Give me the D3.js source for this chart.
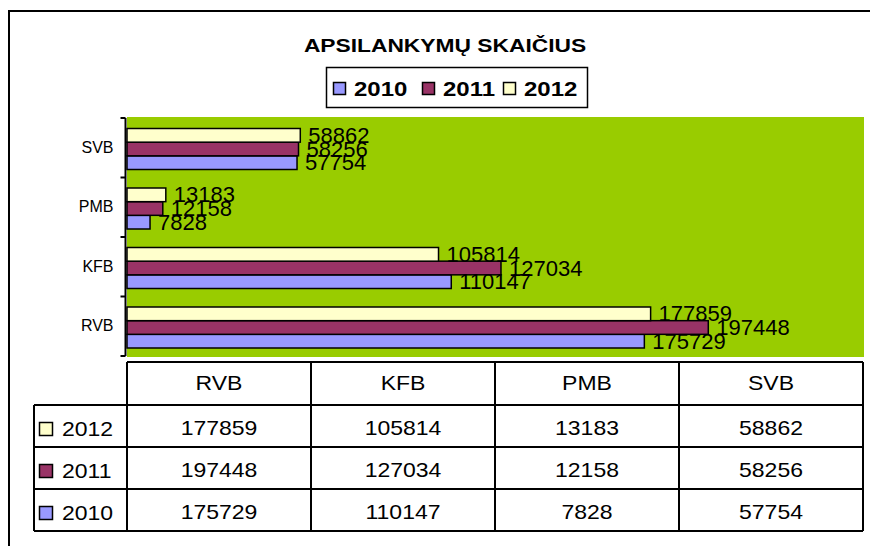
<!DOCTYPE html>
<html><head><meta charset="utf-8">
<script src="https://cdn.jsdelivr.net/npm/d3@7"></script>
<style>body{margin:0;background:#fff}svg{display:block}text{font-family:"Liberation Sans",Arial,sans-serif;fill:#000}</style>
</head><body><svg id="c" width="870" height="546"></svg>
<script>
const title = "APSILANKYMŲ SKAIČIUS";
const categories = ["RVB", "KFB", "PMB", "SVB"];
const years = ["2010", "2011", "2012"];
const values2010 = [175729, 110147, 7828, 57754];
const values2011 = [197448, 127034, 12158, 58256];
const values2012 = [177859, 105814, 13183, 58862];
const xTicks = [0, 250000];

const seriesColors = {"2010": "#9999FF", "2011": "#993366", "2012": "#FFFFCC"};
const series = [
  {year: "2010", values: values2010},
  {year: "2011", values: values2011},
  {year: "2012", values: values2012}
];

const svg = d3.select("#c");
const plot = {x0: 127, x1: 864, y0: 117, y1: 357};

// frame
svg.append("path").attr("d", "M9,546 V11 H870").attr("fill", "none").attr("stroke", "#000").attr("stroke-width", 2);

// title
svg.append("text").attr("transform", "translate(445,52) scale(1.2,1)")
  .attr("text-anchor", "middle").attr("font-size", 19).attr("font-weight", "bold").text(title);

// legend
const lg = svg.append("g");
lg.append("rect").attr("x", 326.5).attr("y", 67.5).attr("width", 261).attr("height", 40)
  .attr("fill", "#fff").attr("stroke", "#000").attr("stroke-width", 1.5);
const legendX = [333, 422, 503];
years.forEach((y, i) => {
  lg.append("rect").attr("x", legendX[i] + 0.5).attr("y", 82.5).attr("width", 12).attr("height", 12)
    .attr("fill", seriesColors[y]).attr("stroke", "#000").attr("stroke-width", 1.5);
  lg.append("text").attr("transform", `translate(${legendX[i] + 21},95.5) scale(1.2,1)`)
    .attr("font-size", 20).attr("font-weight", "bold").text(y);
});

// scales
const x = d3.scaleLinear().domain([xTicks[0], xTicks[1]]).range([127, 863]);
const yBand = d3.scaleBand().domain(categories.slice().reverse()).range([118, 356]).padding(0);
const yInner = d3.scaleBand().domain(years.slice().reverse()).range([10.5, 51.5]).padding(0);

// plot background
svg.append("rect").attr("x", plot.x0).attr("y", plot.y0).attr("width", plot.x1 - plot.x0).attr("height", plot.y1 - plot.y0)
  .attr("fill", "#99CC00");

// bars
const gBars = svg.append("g");
series.forEach(s => {
  categories.forEach((c, ci) => {
    const v = s.values[ci];
    const yy = yBand(c) + yInner(s.year);
    gBars.append("rect").attr("x", x(0)).attr("y", yy).attr("width", x(v) - x(0)).attr("height", yInner.bandwidth())
      .attr("fill", seriesColors[s.year]).attr("stroke", "#000").attr("stroke-width", 1.5);
  });
});
// labels
series.forEach(s => {
  categories.forEach((c, ci) => {
    const v = s.values[ci];
    const yc = yBand(c) + yInner(s.year) + yInner.bandwidth() / 2;
    gBars.append("text").attr("x", x(v) + 8).attr("y", yc + 7.5).attr("font-size", 22).text(v);
  });
});

// y axis
const yAxis = d3.axisLeft(yBand).tickSize(0).tickPadding(12).tickFormat(d => d);
const ga = svg.append("g").attr("transform", "translate(125.5,0)").call(yAxis);
ga.select(".domain").remove();
ga.selectAll("text").attr("font-size", 16).attr("font-family", '"Liberation Sans",Arial,sans-serif').attr("fill", "#000");
const bounds = categories.map(c => yBand(c)).concat([yBand.range()[1]]);
ga.append("line").attr("x1", 0).attr("x2", 0).attr("y1", 118).attr("y2", 356).attr("stroke", "#000").attr("stroke-width", 2);
bounds.forEach(b => ga.append("line").attr("x1", -5).attr("x2", 0).attr("y1", b).attr("y2", b).attr("stroke", "#000").attr("stroke-width", 2));

// data table
const tbl = svg.append("g");
const colX = d3.scaleBand().domain(categories).range([127, 863]);
const headTop = 362, rowTop = 405, rowH = 42;
const rowsOrder = ["2012", "2011", "2010"];
const ln = (x1, y1, x2, y2) => tbl.append("line").attr("x1", x1).attr("y1", y1).attr("x2", x2).attr("y2", y2)
  .attr("stroke", "#000").attr("stroke-width", 2);
ln(127, headTop, 863, headTop);
rowsOrder.forEach((r, i) => ln(34, rowTop + i * rowH, 863, rowTop + i * rowH));
ln(34, rowTop + 3 * rowH, 863, rowTop + 3 * rowH);
ln(34, rowTop, 34, rowTop + 3 * rowH);
categories.forEach(c => ln(colX(c), headTop, colX(c), rowTop + 3 * rowH));
ln(863, headTop, 863, rowTop + 3 * rowH);

categories.forEach(c => {
  tbl.append("text").attr("transform", `translate(${colX(c) + colX.bandwidth() / 2},${headTop + 28}) scale(1.15,1)`)
    .attr("text-anchor", "middle").attr("font-size", 20).text(c);
});
rowsOrder.forEach((r, i) => {
  const top = rowTop + i * rowH;
  const s = series.find(d => d.year === r);
  tbl.append("rect").attr("x", 39.5).attr("y", top + 17.5).attr("width", 13).attr("height", 13)
    .attr("fill", seriesColors[r]).attr("stroke", "#000").attr("stroke-width", 1.5);
  tbl.append("text").attr("transform", `translate(62,${top + 31}) scale(1.15,1)`).attr("font-size", 20).text(r);
  categories.forEach((c, ci) => {
    tbl.append("text").attr("transform", `translate(${colX(c) + colX.bandwidth() / 2},${top + 30}) scale(1.15,1)`)
      .attr("text-anchor", "middle").attr("font-size", 20).text(s.values[ci]);
  });
});
</script></body></html>
